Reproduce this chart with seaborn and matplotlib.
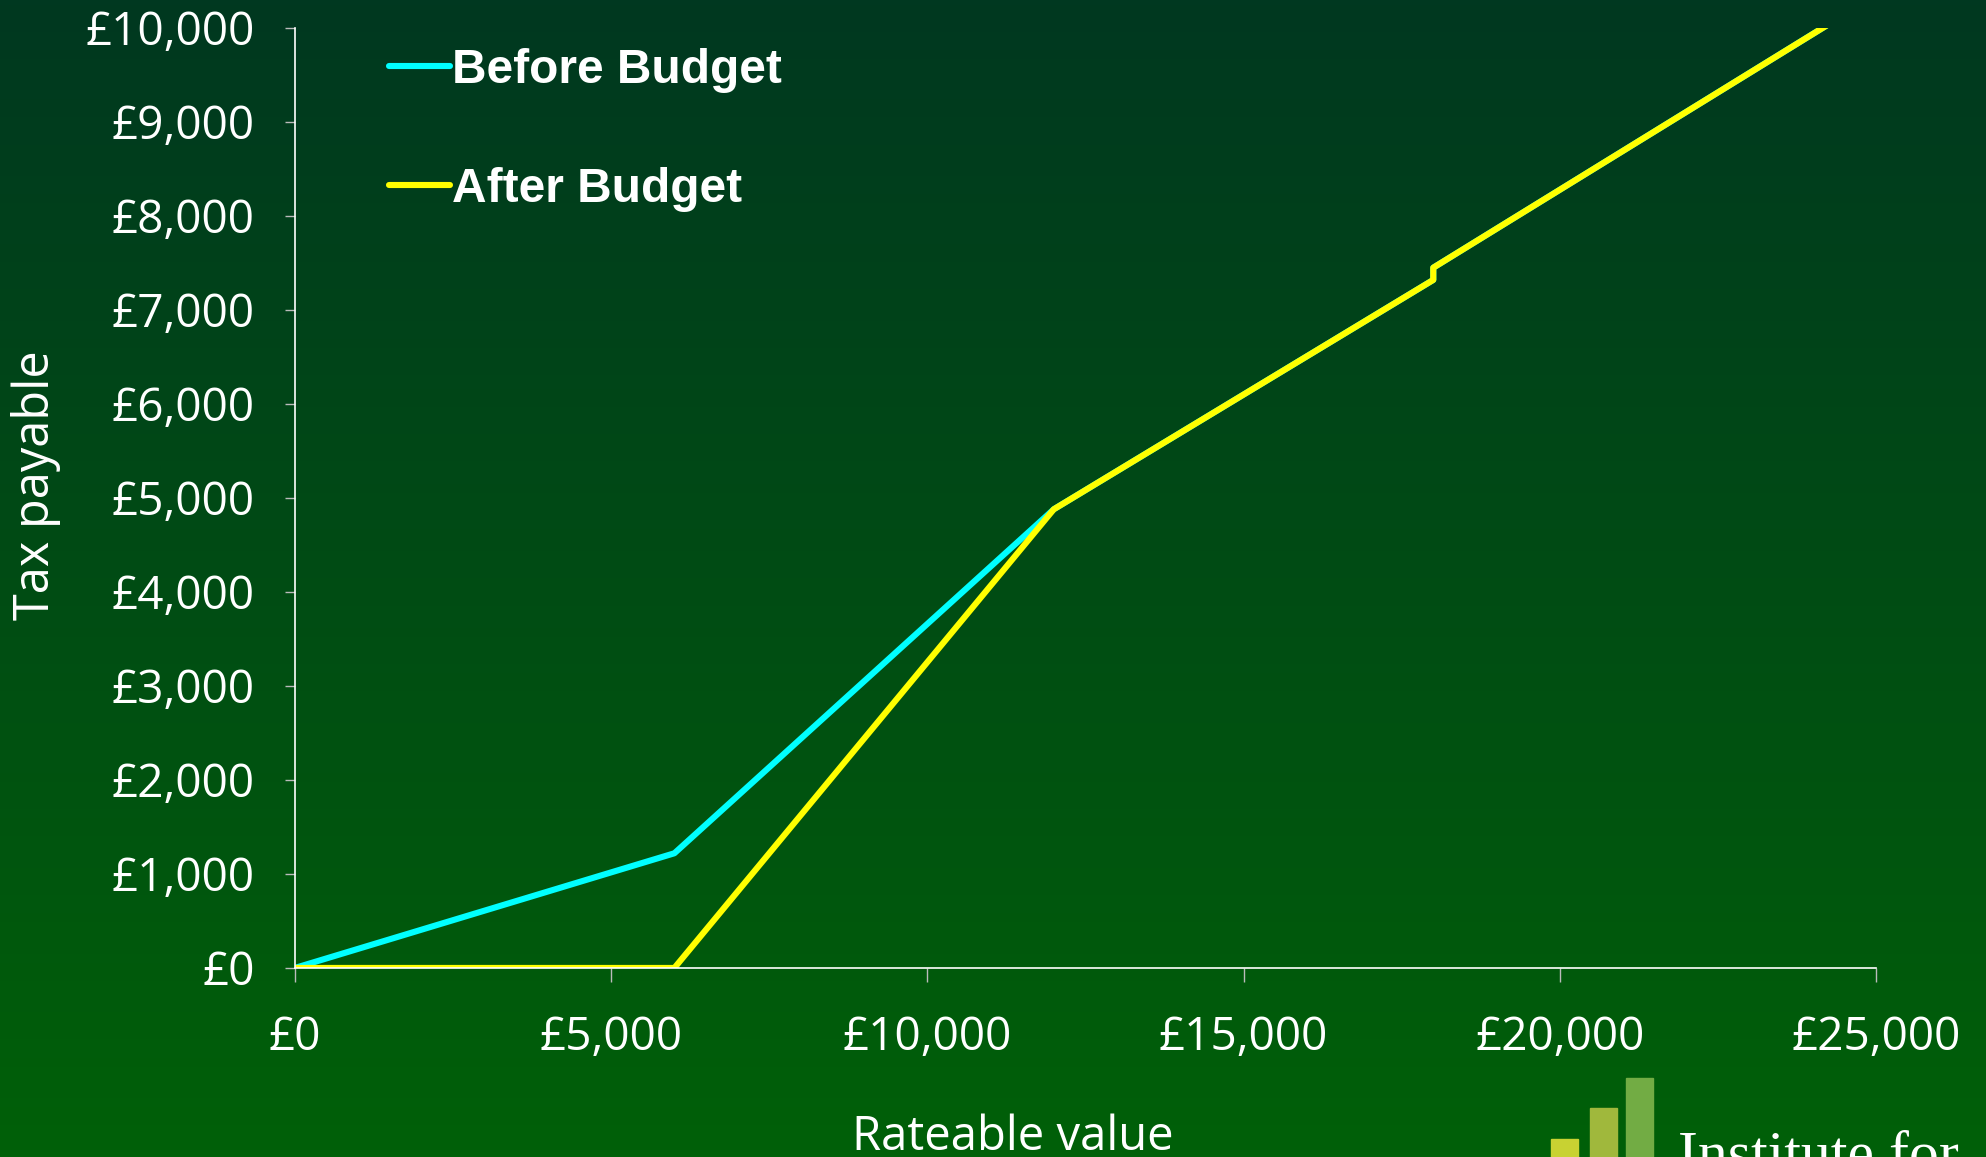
import numpy as np
import pandas as pd
import matplotlib
matplotlib.use("Agg")
from matplotlib import pyplot as plt
from matplotlib.patches import Rectangle
import seaborn as sns

# rateable value (x) and tax payable (y)
before_x = [0, 6000, 12000, 18000, 18000, 25000]
before_y = [0, 1220, 4880, 7320, 7450, 10350]
after_x = [0, 6000, 12000, 18000, 18000, 25000]
after_y = [0, 0, 4880, 7320, 7450, 10350]
series = ["Before Budget", "After Budget"]
colours = {"Before Budget": "#00FFFF", "After Budget": "#FFFF00"}

xticks = [0, 5000, 10000, 15000, 20000, 25000]
xtick_labels = ["£0", "£5,000", "£10,000", "£15,000", "£20,000", "£25,000"]
yticks = list(range(0, 10001, 1000))
ytick_labels = ["£0", "£1,000", "£2,000", "£3,000", "£4,000", "£5,000",
                "£6,000", "£7,000", "£8,000", "£9,000", "£10,000"]

df = pd.concat([
    pd.DataFrame({"x": before_x, "y": before_y, "series": series[0]}),
    pd.DataFrame({"x": after_x, "y": after_y, "series": series[1]}),
], ignore_index=True)

sns.set_theme(style="white")
plt.rcParams["font.family"] = ["Open Sans", "DejaVu Sans"]

fig = plt.figure(figsize=(19.86, 11.57), dpi=100)

# background gradient
bg = fig.add_axes([0, 0, 1, 1], zorder=-10)
top = np.array([0, 56, 32]) / 255
bot = np.array([0, 96, 8]) / 255
t = np.linspace(0, 1, 256)[:, None]
grad = (top[None, :] * (1 - t) + bot[None, :] * t)[:, None, :]
bg.imshow(grad, aspect="auto", extent=[0, 1, 0, 1])
bg.axis("off")

ax = fig.add_axes([0.1485, 0.1634, 0.7961, 0.8124])
ax.set_facecolor("none")
sns.lineplot(data=df, x="x", y="y", hue="series", palette=colours,
             estimator=None, sort=False, units="series", linewidth=4.4,
             ax=ax, legend=False)

ax.set_xlim(0, 25000)
ax.set_ylim(0, 10000)
ax.set_xticks(xticks)
ax.set_xticklabels(xtick_labels)
ax.set_yticks(yticks)
ax.set_yticklabels(ytick_labels)
ax.tick_params(axis="x", direction="out", length=10, width=1, color="#BBBBBB",
               labelsize=33, labelcolor="white", pad=24, bottom=True)
ax.tick_params(axis="y", direction="out", length=7, width=1, color="#BBBBBB",
               labelsize=33, labelcolor="white", pad=22, left=True)
for s in ["top", "right"]:
    ax.spines[s].set_visible(False)
for s in ["left", "bottom"]:
    ax.spines[s].set_color("white")
    ax.spines[s].set_linewidth(1.2)
ax.set_xlabel("")
ax.set_ylabel("")

fig.text(1013 / 1986, 1 - 1150 / 1157, "Rateable value", color="white",
         fontsize=34, ha="center", va="baseline")
fig.text(36 / 1986, 1 - 485 / 1157, "Tax payable", color="white",
         fontsize=35, ha="center", va="center", rotation=90)

# legend
handles = [plt.Line2D([], [], color=colours[s], linewidth=4.4) for s in series]
leg = ax.legend(handles, series, loc="upper left",
                bbox_to_anchor=(389 / 1986, 1 - 48 / 1157),
                bbox_transform=fig.transFigure, frameon=False,
                borderpad=0, borderaxespad=0, handlelength=1.27,
                handletextpad=0.05, labelspacing=1.55,
                prop={"family": "Liberation Sans", "weight": "bold", "size": 34.5})
for txt in leg.get_texts():
    txt.set_color("white")

# logo
logo_bars = [(1551, 1139, "#C8D232"), (1590, 1108, "#A0B83C"), (1626, 1078, "#72AC44")]
for x0, y0, c in logo_bars:
    fig.add_artist(Rectangle((x0 / 1986, 0), 27 / 1986, 1 - y0 / 1157,
                             transform=fig.transFigure, color=c))
fig.text(1678 / 1986, 1 - 1171 / 1157, "Institute for", color="white",
         fontsize=43, family="Liberation Serif", ha="left", va="baseline")

fig.savefig("out.png", dpi=100)
